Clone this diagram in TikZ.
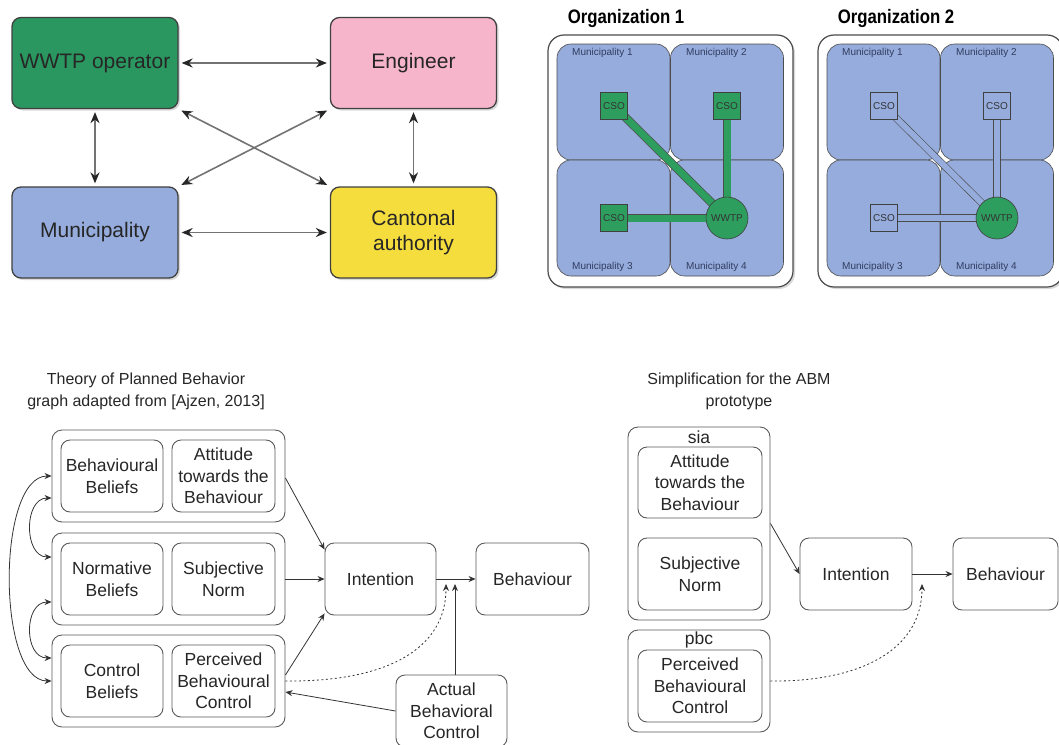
\documentclass[tikz,border=0pt]{standalone}
\usepackage{fontspec}
\setmainfont{Liberation Sans}
\newfontfamily\orgfont[FakeStretch=0.86]{Liberation Sans}
\usetikzlibrary{positioning,arrows.meta,shadows}
\definecolor{opgreen}{RGB}{43,151,96}
\definecolor{engpink}{RGB}{247,181,204}
\definecolor{munblue}{RGB}{149,172,220}
\definecolor{cantyellow}{RGB}{246,221,62}
\definecolor{pipegreen}{RGB}{46,158,94}
\definecolor{labelnavy}{RGB}{50,60,95}
\pgfdeclarelayer{bg}
\pgfdeclarelayer{pipes}
\pgfsetlayers{bg,pipes,main}
\tikzset{
  actor/.style={draw=black!75, line width=1.3pt, rounded corners=9pt, minimum width=166pt, minimum height=91pt, align=center, font=\fontsize{21}{25}\selectfont, text=black!85, drop shadow={shadow xshift=2pt, shadow yshift=-2pt, opacity=0.3}},
  link/.style={{Stealth[length=11pt,width=9pt,color=black!85]}-{Stealth[length=11pt,width=9pt,color=black!85]}, draw=black!55, line width=1.6pt, shorten <=3pt, shorten >=3pt},
  orgtitle/.style={font=\orgfont\bfseries\fontsize{19.5}{22}\selectfont},
  orgbox/.style={draw=black!70, line width=1.2pt, fill=white, rounded corners=16pt, minimum width=245pt, minimum height=252pt, drop shadow={shadow xshift=2pt, shadow yshift=-2pt, opacity=0.3}},
  quad/.style={draw=black!70, line width=0.6pt, fill=munblue, rounded corners=14pt, minimum width=113pt, minimum height=116pt},
  quadlabel/.style={anchor=west, inner sep=0pt, font=\fontsize{10}{12}\selectfont, text=labelnavy},
  csofull/.style={draw=black!75, line width=0.6pt, fill=pipegreen, minimum size=27pt, inner sep=0pt, font=\fontsize{10}{12}\selectfont, text=black!80},
  csoempty/.style={csofull, fill=munblue},
  plant/.style={circle, draw=black!75, line width=0.6pt, fill=pipegreen, minimum size=42pt, inner sep=0pt, font=\fontsize{10}{12}\selectfont, text=black!80},
  fullpipe/.style={draw=black!70, line width=0.7pt, double=pipegreen, double distance=7pt},
  emptypipe/.style={draw=black!70, line width=0.6pt, double=munblue, double distance=6pt},
  caption/.style={align=center, font=\fontsize{16}{22}\selectfont, text=black!85},
  grp/.style={draw=black!65, line width=0.9pt, rounded corners=10pt},
  box/.style={draw=black!65, line width=0.9pt, rounded corners=9pt, minimum height=72pt, inner sep=1pt, align=center, font=\fontsize{17.5}{21.5}\selectfont, text=black!85},
  grplabel/.style={inner sep=0pt, font=\fontsize{17.5}{21.5}\selectfont, text=black!85},
  flow/.style={-{Stealth[length=7pt,width=6pt]}, draw=black!80, line width=0.8pt},
  both/.style={{Stealth[length=7pt,width=6pt]}-{Stealth[length=7pt,width=6pt]}, draw=black!80, line width=0.8pt},
  maybe/.style={flow, dash pattern=on 2pt off 2.5pt}
}

\begin{document}
\begin{tikzpicture}[x=1pt,y=-1pt]
        \clip (0,0) rectangle (1059,744);

        \node[actor, fill=opgreen] (op) at (95,63) {WWTP operator};
        \node[actor, fill=engpink] (eng) at (413.5,63) {Engineer};
        \node[actor, fill=munblue] (muni) at (95,232.5) {Municipality};
        \node[actor, fill=cantyellow] (cant) at (413.5,232.5) {Cantonal\\authority};
        \draw[link] (op) -- (eng);
        \draw[link] (muni) -- (cant);
        \draw[link] (op) -- (muni);
        \draw[link] (eng) -- (cant);
        \draw[link] (op.south east) -- (cant.north west);
        \draw[link] (eng.south west) -- (muni.north east);

        \node[orgtitle] (t1) at (626,19) {Organization 1};
        \node[orgtitle] (t2) at (896,19) {Organization 2};
        \begin{pgfonlayer}{bg}
        \node[orgbox] (org1) at (670.5,161) {};
        \node[quad] (o1m1) at (613.5,102) {};
        \node[quad] (o1m2) at (727,102) {};
        \node[quad] (o1m3) at (613.5,218) {};
        \node[quad] (o1m4) at (727,218) {};
        \node[orgbox] (org2) at (940.5,161) {};
        \node[quad] (o2m1) at (883.5,102) {};
        \node[quad] (o2m2) at (997,102) {};
        \node[quad] (o2m3) at (883.5,218) {};
        \node[quad] (o2m4) at (997,218) {};
        \end{pgfonlayer}
        \node[quadlabel] (o1l1) at (572,53) {Municipality 1};
        \node[quadlabel] (o1l2) at (686,53) {Municipality 2};
        \node[quadlabel] (o1l3) at (572,267) {Municipality 3};
        \node[quadlabel] (o1l4) at (686,267) {Municipality 4};
        \node[quadlabel] (o2l1) at (842,53) {Municipality 1};
        \node[quadlabel] (o2l2) at (956,53) {Municipality 2};
        \node[quadlabel] (o2l3) at (842,267) {Municipality 3};
        \node[quadlabel] (o2l4) at (956,267) {Municipality 4};
        \node[csofull] (o1c1) at (614,106) {CSO};
        \node[csofull] (o1c2) at (727,106) {CSO};
        \node[csofull] (o1c3) at (614,218) {CSO};
        \node[plant] (o1w) at (727,218) {WWTP};
        \node[csoempty] (o2c1) at (884,106) {CSO};
        \node[csoempty] (o2c2) at (997,106) {CSO};
        \node[csoempty] (o2c3) at (884,218) {CSO};
        \node[plant] (o2w) at (997,218) {WWTP};
        \begin{pgfonlayer}{pipes}
        \draw[fullpipe] (o1c1.center) -- (o1w.center);
        \draw[fullpipe] (o1c2.center) -- (o1w.center);
        \draw[fullpipe] (o1c3.center) -- (o1w.center);
        \draw[emptypipe] (o2c1.center) -- (o2w.center);
        \draw[emptypipe] (o2c2.center) -- (o2w.center);
        \draw[emptypipe] (o2c3.center) -- (o2w.center);
        \end{pgfonlayer}

        \node[caption] (tpbtitle) at (146,391) {Theory of Planned Behavior\\graph adapted from [Ajzen, 2013]};
        \node[grp, minimum width=233pt, minimum height=92pt] (g1) at (168.5,476) {};
        \node[grp, minimum width=233pt, minimum height=92pt] (g2) at (168.5,579) {};
        \node[grp, minimum width=233pt, minimum height=92pt] (g3) at (168.5,681) {};
        \node[box, minimum width=102pt] (bb) at (112,476) {Behavioural\\Beliefs};
        \node[box, minimum width=103pt] (att) at (223.5,476) {Attitude\\towards the\\Behaviour};
        \node[box, minimum width=102pt] (nb) at (112,579) {Normative\\Beliefs};
        \node[box, minimum width=103pt] (sn) at (223.5,579) {Subjective\\Norm};
        \node[box, minimum width=102pt] (cb) at (112,681) {Control\\Beliefs};
        \node[box, minimum width=103pt] (pbc) at (223.5,681) {Perceived\\Behavioural\\Control};
        \node[box, minimum width=111pt] (int) at (380.5,579) {Intention};
        \node[box, minimum width=113pt] (beh) at (532.5,579) {Behaviour};
        \node[box, minimum width=111pt] (abc) at (451.5,711) {Actual\\Behavioral\\Control};
        \coordinate (tip) at (455,584);
        \coordinate (dtip) at (446,584);
        \draw[flow] ([yshift=-2pt]g1.east) -- ([yshift=-7pt]int.north west);
        \draw[flow] (g2) -- (int);
        \draw[flow] ([yshift=6pt]g3.east) -- ([yshift=2pt]int.south west);
        \draw[flow] (int) -- (beh);
        \draw[flow] (abc.north -| tip) -- (tip);
        \draw[flow] (abc.west) -- ([yshift=-11pt]g3.east);
        \draw[maybe] (g3.east) .. controls (385,682) and (446,650) .. (dtip);
        \draw[both] (g1.west) .. controls +(-55,0) and +(-55,0) .. (g3.west);
        \draw[both] ([yshift=-22pt]g1.west) .. controls +(-28,0) and +(-28,0) .. ([yshift=22pt]g2.west);
        \draw[both] ([yshift=-23pt]g2.west) .. controls +(-28,0) and +(-28,0) .. ([yshift=23pt]g3.west);

        \node[caption] (simtitle) at (739,391) {Simplification for the ABM\\prototype};
        \node[grp, minimum width=142pt, minimum height=193pt] (sia) at (699,523.5) {};
        \node[grplabel] (sialbl) at (699,437) {sia};
        \node[box, minimum width=124pt, minimum height=71pt] (att2) at (700,482.5) {Attitude\\towards the\\Behaviour};
        \node[box, minimum width=124pt] (sn2) at (700,574) {Subjective\\Norm};
        \node[grp, minimum width=142pt, minimum height=102pt] (pbcg) at (699,681) {};
        \node[grplabel] (pbclbl) at (699,640) {pbc};
        \node[box, minimum width=124pt] (pbc2) at (700,686) {Perceived\\Behavioural\\Control};
        \node[box, minimum width=112pt] (int2) at (856,574) {Intention};
        \node[box, minimum width=105pt] (beh2) at (1005.5,574) {Behaviour};
        \coordinate (dtip2) at (922,584);
        \draw[flow] (sia.east) -- (int2.west);
        \draw[flow] (int2) -- (beh2);
        \draw[maybe] (pbcg.east) .. controls (860,682) and (922,650) .. (dtip2);
\end{tikzpicture}
\end{document}
